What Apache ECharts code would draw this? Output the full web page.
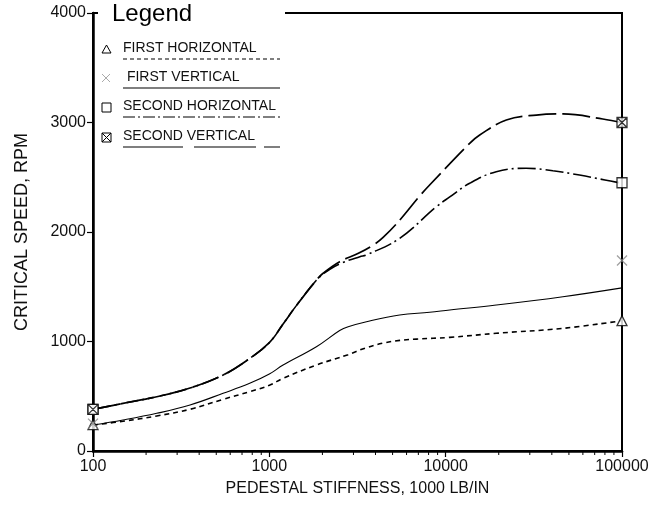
<!DOCTYPE html>
<html>
<head>
<meta charset="utf-8">
<script src="https://cdn.jsdelivr.net/npm/echarts@6/dist/echarts.min.js"></script>
<style>
html,body{margin:0;padding:0;background:#fff;}
#chart{width:649px;height:510px;}
</style>
</head>
<body>
<div id="chart"></div>
<script>
// ---- data ----
var seriesNames = ['FIRST HORIZONTAL', ' FIRST VERTICAL', 'SECOND HORIZONTAL', 'SECOND VERTICAL'];
var firstHorizontal = [[100,237],[148,272],[230,320],[355,381],[547,472],[774,542],[1000,600],[1197,664],[1849,785],[2800,880],[3500,940],[4418,985],[5500,1010],[6820,1022],[10550,1038],[19360,1075],[46200,1120],[100000,1190]];
var firstVertical = [[100,237],[148,283],[230,344],[355,420],[547,527],[774,618],[1000,703],[1197,785],[1849,952],[2506,1100],[2800,1135],[3556,1181],[5480,1242],[8110,1267],[10550,1288],[19360,1333],[46200,1409],[100000,1490]];
var secondHorizontal = [[100,380],[148,435],[230,496],[355,575],[547,694],[743,825],[1000,990],[1197,1160],[1426,1330],[1849,1560],[2203,1660],[2600,1720],[3260,1774],[3556,1790],[5480,1942],[8850,2231],[10550,2320],[13680,2445],[19360,2551],[28640,2582],[40550,2560],[57400,2520],[80000,2475],[100000,2445]];
var secondVertical = [[100,380],[148,435],[230,496],[355,575],[547,694],[743,825],[1000,990],[1197,1160],[1426,1330],[1849,1560],[2018,1623],[2506,1729],[3200,1805],[3963,1890],[4418,1950],[5500,2110],[7130,2330],[8110,2429],[13680,2810],[15600,2886],[22080,3023],[32650,3068],[46200,3078],[77800,3032],[100000,3000]];
var markerX = [100, 100000];
var firstHorizontalMarks = [240, 1190];
var firstVerticalMarks = [250, 1740];
var secondHorizontalMarks = [380, 2450];
var secondVerticalMarks = [380, 3000];
var xMinorTicks = [200,300,400,500,600,700,800,900,2000,3000,4000,5000,6000,7000,8000,9000,20000,30000,40000,50000,60000,70000,80000,90000];

var FONT = '"Liberation Sans", Arial, sans-serif';
var symTri = 'triangle';
var symX = 'path://M0,0 L10,10 M10,0 L0,10';
var symSq = 'path://M0,0 L10,0 L10,10 L0,10 Z';
var symSqX = 'path://M0,0 L10,0 L10,10 L0,10 Z M0,0 L10,10 M10,0 L0,10';

function pairs(xs, ys){ return xs.map(function(x,i){ return [x, ys[i]]; }); }

var chart = echarts.init(document.getElementById('chart'), null, {renderer:'canvas'});

function curve(name, data, dash, width){
  return {
    type:'line', name:name, data:data, smooth:0.4, symbol:'none',
    lineStyle:{color:'#000', width:width, type:dash}, z:3, silent:true
  };
}
function marks(name, data, sym, size, color){
  return {
    type:'scatter', name:name+' mark', data:data, symbol:sym, symbolSize:size,
    itemStyle:{color:'#fff', borderColor:color, borderWidth:1.3}, z:5, silent:true
  };
}

// legend graphics
var legendTop = [49, 78, 107, 137];
var underlineDash = [[4,3], null, [12,3,2,3], [60,11,62,8]];
var graphics = [
  {type:'rect', shape:{x:98, y:9, width:187, height:8}, style:{fill:'#fff'}, z:100},
  {type:'text', x:112, y:2, z:101, style:{text:'Legend', font:'24px '+FONT, fill:'#000'}}
];
seriesNames.forEach(function(n,i){
  graphics.push({type:'text', x:123, y:legendTop[i]-8, z:101, style:{text:n, font:'14px '+FONT, fill:'#111'}});
  graphics.push({type:'line', z:101, shape:{x1:123, y1:legendTop[i]+10, x2:280, y2:legendTop[i]+10},
    style:{stroke:'#000', lineWidth:1.2, lineDash:underlineDash[i]}});
});
graphics.push({type:'polygon', z:101, shape:{points:[[102,53],[106.5,45],[111,53]]}, style:{fill:'#fff', stroke:'#000', lineWidth:1}});
graphics.push({type:'line', z:101, shape:{x1:102, y1:74, x2:110, y2:82}, style:{stroke:'#aaa', lineWidth:1}});
graphics.push({type:'line', z:101, shape:{x1:110, y1:74, x2:102, y2:82}, style:{stroke:'#aaa', lineWidth:1}});
graphics.push({type:'rect', z:101, shape:{x:102, y:103, width:9, height:9}, style:{fill:'#fff', stroke:'#000', lineWidth:1}});
graphics.push({type:'rect', z:101, shape:{x:102, y:133, width:9, height:9}, style:{fill:'#fff', stroke:'#000', lineWidth:1}});
graphics.push({type:'line', z:102, shape:{x1:102, y1:133, x2:111, y2:142}, style:{stroke:'#000', lineWidth:1}});
graphics.push({type:'line', z:102, shape:{x1:111, y1:133, x2:102, y2:142}, style:{stroke:'#000', lineWidth:1}});

var option = {
  animation:false,
  backgroundColor:'#fff',
  grid:{left:93, right:27, top:13, bottom:59, show:true, borderColor:'#000', borderWidth:2, containLabel:false, outerBoundsMode:'none'},
  xAxis:{
    type:'log', logBase:10, min:100, max:100000,
    name:'PEDESTAL STIFFNESS, 1000 LB/IN', nameLocation:'middle', nameGap:30,
    nameTextStyle:{fontFamily:FONT, fontSize:16, color:'#111'},
    axisLine:{show:true, lineStyle:{color:'#000', width:2.5}},
    axisTick:{show:true, inside:false, length:6, lineStyle:{color:'#000', width:1.2}},
    axisLabel:{fontFamily:FONT, fontSize:16, color:'#111', margin:8, formatter:function(v){return String(Math.round(v));}},
    splitLine:{show:false}
  },
  yAxis:{
    type:'value', min:0, max:4000, interval:1000,
    name:'CRITICAL SPEED, RPM', nameLocation:'middle', nameGap:62,
    nameTextStyle:{fontFamily:FONT, fontSize:18, color:'#111'},
    axisLine:{show:true, lineStyle:{color:'#000', width:2.5}},
    axisTick:{show:true, inside:false, length:6, lineStyle:{color:'#000', width:1.2}},
    axisLabel:{fontFamily:FONT, fontSize:16, color:'#111', margin:7, formatter:function(v){return String(v);}},
    splitLine:{show:false}
  },
  graphic:graphics,
  series:[
    curve(seriesNames[0], firstHorizontal, [5,4], 1.6),
    curve(seriesNames[1], firstVertical, 'solid', 1.1),
    curve(seriesNames[2], secondHorizontal, [18,4,2,4], 1.6),
    curve(seriesNames[3], secondVertical, [28,6], 1.7),
    marks(seriesNames[0], pairs(markerX, firstHorizontalMarks), symTri, 10, '#000'),
    marks(seriesNames[1], pairs(markerX, firstVerticalMarks), symX, 10, '#888'),
    marks(seriesNames[2], pairs(markerX, secondHorizontalMarks), symSq, 10, '#000'),
    marks(seriesNames[3], pairs(markerX, secondVerticalMarks), symSqX, 10, '#000'),
    {
      type:'custom', name:'minor ticks', silent:true, clip:false, z:4,
      data:xMinorTicks.map(function(v){return [v,0];}),
      renderItem:function(params, api){
        var p = api.coord([api.value(0), 0]);
        return {type:'line', shape:{x1:p[0], y1:p[1], x2:p[0], y2:p[1]+4}, style:{stroke:'#000', lineWidth:1}};
      }
    }
  ]
};
chart.setOption(option);
</script>
</body>
</html>
